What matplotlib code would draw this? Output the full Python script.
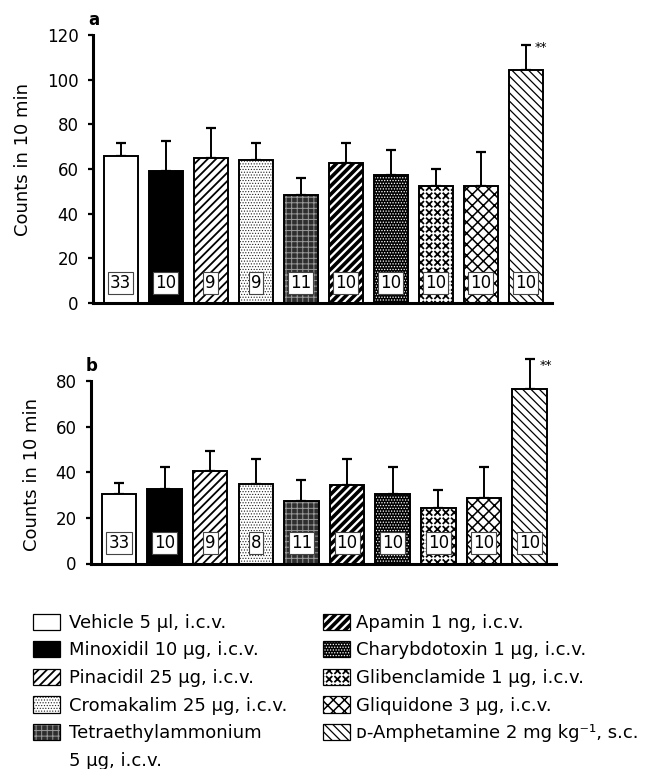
import warnings
import numpy as np
import matplotlib
matplotlib.use("Agg")
import matplotlib.pyplot as plt
import matplotlib.hatch as mhatch
from matplotlib.path import Path
from matplotlib.patches import Rectangle
from matplotlib.legend_handler import HandlerTuple

warnings.filterwarnings("ignore")

# ---------------- data ----------------
treatments = [
    "Vehicle 5 µl, i.c.v.",
    "Minoxidil 10 µg, i.c.v.",
    "Pinacidil 25 µg, i.c.v.",
    "Cromakalim 25 µg, i.c.v.",
    "Tetraethylammonium",
    "Apamin 1 ng, i.c.v.",
    "Charybdotoxin 1 µg, i.c.v.",
    "Glibenclamide 1 µg, i.c.v.",
    "Gliquidone 3 µg, i.c.v.",
    "ᴅ-Amphetamine 2 mg kg⁻¹, s.c.",
]
tea_second_line = "5 µg, i.c.v."

means_a = [66, 59, 65, 64, 48.5, 62.5, 57.5, 52.5, 52.5, 104.5]
sem_a = [5.5, 13.5, 13.5, 7.5, 7.5, 9, 11, 7.5, 15, 11]
n_a = [33, 10, 9, 9, 11, 10, 10, 10, 10, 10]
sig_a = ["", "", "", "", "", "", "", "", "", "**"]

means_b = [30.5, 32.5, 40.5, 35, 27.5, 34.5, 30.5, 24.5, 28.5, 76.5]
sem_b = [4.8, 9.6, 9, 10.9, 9.2, 11.1, 12, 7.7, 14, 13]
n_b = [33, 10, 9, 8, 11, 10, 10, 10, 10, 10]
sig_b = ["", "", "", "", "", "", "", "", "", "**"]

yticks_a = [0, 20, 40, 60, 80, 100, 120]
yticks_b = [0, 20, 40, 60, 80]
ylabel = "Counts in 10 min"

# ---------------- custom hatch: separate small x marks ----------------
class _SmallCrosses(mhatch.HatchPatternBase):
    def __init__(self, hatch, density):
        self.num_rows = int(hatch.count("k") * density)
        self.num_vertices = 4 * self.num_rows * self.num_rows

    def set_vertices_and_codes(self, vertices, codes):
        n = self.num_rows
        s = 0.30 / n
        c = (np.arange(n) + 0.5) / n
        cx, cy = np.meshgrid(c, c)
        cx = cx.ravel()
        cy = cy.ravel()
        v = np.stack([np.stack([cx - s, cy - s], 1),
                      np.stack([cx + s, cy + s], 1),
                      np.stack([cx - s, cy + s], 1),
                      np.stack([cx + s, cy - s], 1)], axis=1).reshape(-1, 2)
        vertices[:] = v
        codes[0::2] = Path.MOVETO
        codes[1::2] = Path.LINETO

mhatch._hatch_types.append(_SmallCrosses)

# ---------------- styles ----------------
styles = [
    dict(fc="white", hatch=None, hc="black", hlw=1.0),
    dict(fc="black", hatch=None, hc="black", hlw=1.0),
    dict(fc="white", hatch="////", hc="black", hlw=1.3),
    dict(fc="white", hatch="......", hc="#222222", hlw=0.5),
    dict(fc="#2e2e2e", hatch="+++", hc="#9a9a9a", hlw=0.7),
    dict(fc="white", hatch="////", hc="black", hlw=2.6),
    dict(fc="black", hatch="......", hc="white", hlw=0.6),
    dict(fc="white", hatch="kk", hc="black", hlw=1.3),
    dict(fc="white", hatch="xxx", hc="black", hlw=1.1),
    dict(fc="white", hatch="\\\\\\\\", hc="black", hlw=0.9),
]


def set_hlw(p, lw):
    if hasattr(p, "set_hatch_linewidth"):
        try:
            p.set_hatch_linewidth(lw)
        except Exception:
            pass


plt.rcParams["font.family"] = ["DejaVu Sans"]

fig = plt.figure(figsize=(6.48, 7.69), dpi=100)
W, H = 648.0, 769.0
ax_a = fig.add_axes([93 / W, 1 - 303 / H, 459 / W, 268 / H])
ax_b = fig.add_axes([91 / W, 1 - 563.5 / H, 465 / W, 182.5 / H])

bar_w = 0.755


def draw_panel(ax, means, sems, ns, sigs, yticks, label_xy, star_off):
    x = np.arange(len(means))
    for i in range(len(means)):
        st = styles[i]
        with plt.rc_context({"hatch.linewidth": st["hlw"]}):
            bars = ax.bar(x[i], means[i], bar_w, color=st["fc"],
                          hatch=st["hatch"], edgecolor=st["hc"],
                          linewidth=0, zorder=2)
            for p in bars:
                set_hlw(p, st["hlw"])
    ax.bar(x, means, bar_w, fill=False, edgecolor="black", linewidth=1.4,
           zorder=3)
    eb = ax.errorbar(x, means, yerr=[np.zeros(len(means)), sems], fmt="none",
                     ecolor="black", elinewidth=1.4, capsize=3.3,
                     capthick=1.6, zorder=1.5)
    for art in eb.lines[1] + eb.lines[2]:
        art.set_clip_on(False)
    for i in range(len(means)):
        ax.annotate(str(ns[i]), xy=(x[i], 0), xytext=(0, 14.6),
                    textcoords="offset points", ha="center", va="center",
                    fontsize=12, zorder=6,
                    bbox=dict(boxstyle="square,pad=0.12", fc="white",
                              ec="#444444", lw=0.8))
        if sigs[i]:
            ax.annotate(sigs[i], xy=(x[i], means[i] + sems[i]),
                        xytext=star_off, textcoords="offset points",
                        ha="center", va="center", fontsize=9, zorder=6,
                        annotation_clip=False)
    ax.set_xlim(-0.615, 9.58)
    ax.set_ylim(yticks[0], yticks[-1])
    ax.set_yticks(yticks)
    ax.set_xticks([])
    for s in ("top", "right"):
        ax.spines[s].set_visible(False)
    for s in ("left", "bottom"):
        ax.spines[s].set_linewidth(2.2)
    ax.tick_params(axis="y", direction="out", length=3.5, width=1.6,
                   labelsize=12, pad=7)
    ax.set_ylabel(ylabel, fontsize=13)
    ax.yaxis.set_label_coords(*label_xy)


draw_panel(ax_a, means_a, sem_a, n_a, sig_a, yticks_a, (-0.133, 0.537),
           (11, -1.5))
draw_panel(ax_b, means_b, sem_b, n_b, sig_b, yticks_b, (-0.1075, 0.485),
           (12, -4.5))

fig.text(88 / W, 1 - 25 / H, "a", fontsize=12, fontweight="bold",
         va="baseline", ha="left")
fig.text(86 / W, 1 - 371 / H, "b", fontsize=12, fontweight="bold",
         va="baseline", ha="left")


# ---------------- legend ----------------
def make_handle(st):
    fill = Rectangle((0, 0), 1, 1, facecolor=st["fc"], hatch=st["hatch"],
                     edgecolor=st["hc"], linewidth=0)
    set_hlw(fill, st["hlw"])
    outline = Rectangle((0, 0), 1, 1, fill=False, edgecolor="black",
                        linewidth=0.9)
    return (fill, outline)


def add_legend(idx, extra, x0, pad):
    handles = [make_handle(styles[i]) for i in idx]
    labels = [treatments[i] for i in idx]
    if extra:
        handles.append(Rectangle((0, 0), 1, 1, facecolor="none",
                                 edgecolor="none"))
        labels.append(extra)
    leg = fig.legend(handles, labels, loc="upper left",
                     bbox_to_anchor=(x0 / W, 1 - 613.5 / H),
                     frameon=False, borderpad=0, borderaxespad=0,
                     handlelength=1.5, handleheight=1.0,
                     handletextpad=pad, labelspacing=0.52, fontsize=13,
                     handler_map={tuple: HandlerTuple(ndivide=1, pad=0)})
    hs = getattr(leg, "legend_handles", None) or getattr(leg, "legendHandles", [])
    for h, i in zip(hs, idx):
        set_hlw(h, styles[i]["hlw"])
    return leg


leg1 = add_legend([0, 1, 2, 3, 4], tea_second_line, 33, 0.5)
leg2 = add_legend([5, 6, 7, 8, 9], None, 323, 0.33)

fig.savefig("out.png", dpi=100)
